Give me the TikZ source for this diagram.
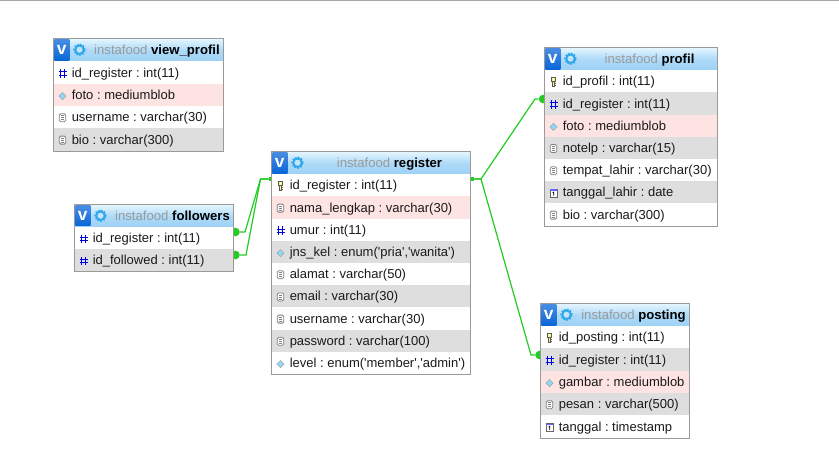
\documentclass[tikz,border=0pt]{standalone}
\usepackage{fontspec}
\newfontfamily\uifont{Liberation Sans}
\definecolor{rowwhite}{HTML}{FFFFFF}
\definecolor{rowgray}{HTML}{DEDEDE}
\definecolor{rowpink}{HTML}{FEE3E3}
\definecolor{frameline}{HTML}{9A9A9A}
\definecolor{headtop}{HTML}{E6F7FF}
\definecolor{headbot}{HTML}{9CD1F5}
\definecolor{linkgreen}{HTML}{22CC22}
\definecolor{titlegray}{HTML}{9A9A9A}
\definecolor{txt}{HTML}{1A1A1A}
\definecolor{vblue}{HTML}{0A66D8}
\definecolor{gearblue}{HTML}{2FA8EC}
\tikzset{
  x=0.75pt,y=-0.75pt,
  rowbox/.style={draw=none,inner sep=0pt,anchor=north west},
  rowtext/.style={inner sep=0pt,anchor=base west,font=\uifont\frenchspacing\fontsize{9.75pt}{11pt}\selectfont,text=txt},
  titletext/.style={inner sep=0pt,anchor=base,font=\uifont\frenchspacing\fontsize{9.85pt}{11pt}\selectfont,text=titlegray},
  framebox/.style={draw=frameline,line width=0.75pt,inner sep=0pt,anchor=north west,fill=none},
  link/.style={draw=linkgreen,line width=0.9pt},
  fkdot/.style={circle,fill=linkgreen,draw=none,inner sep=0pt,minimum size=6.4pt},
  pkdot/.style={rectangle,fill=linkgreen,draw=none,inner sep=0pt,minimum size=3pt},
  vbox/.style={rectangle,inner sep=0pt,anchor=north west,top color=vblue!75!white,bottom color=vblue,draw=none,text=white,font=\uifont\bfseries\fontsize{13pt}{13pt}\selectfont},
  gearfill/.style={draw=gearblue,line width=1.5pt,fill=headbot!60!white},
  gearteeth/.style={draw=gearblue,line width=1pt,dash pattern=on 1.2pt off 1.2pt},
  pics/hashicon/.style={code={
    \draw[blue!90!black,line width=0.7pt] (-1.7,-3.5) -- (-1.7,5) (1.7,-3.5) -- (1.7,5) (-4,-0.8) -- (4,-0.8) (-4,2.4) -- (4,2.4);}},
  pics/diamondicon/.style={code={
    \fill[gray!70] (-4,1) -- (0,-3) -- (4,1) -- (0,5) -- cycle;
    \fill[cyan!45!white] (-3,1) -- (0,-2) -- (3,1) -- (0,4) -- cycle;}},
  pics/docicon/.style={code={
    \draw[gray,line width=0.6pt,fill=white,rounded corners=1pt] (-3.2,-3.5) rectangle (3.2,4.5);
    \draw[gray,line width=0.5pt] (-1.6,-1.5) -- (1.6,-1.5) (-1.6,0.5) -- (1.6,0.5) (-1.6,2.5) -- (1.6,2.5);}},
  pics/keyicon/.style={code={
    \draw[black!65,line width=0.45pt,fill=yellow!55!white] (-2,-4) rectangle (2,0.2);
    \fill[white] (-0.7,-3) rectangle (0.7,-1.6);
    \draw[black!65,line width=0.45pt,fill=yellow!55!white] (-1,0.2) rectangle (1,5);
    \draw[black!65,line width=0.45pt] (1,2) -- (2,2) (1,4) -- (2,4);}},
  pics/calicon/.style={code={
    \draw[gray!80!black,line width=0.6pt,fill=white] (-3.6,-3) rectangle (3.6,4.5);
    \fill[blue!60!white] (-3.6,-3) rectangle (3.6,-1.2);
    \draw[black,line width=0.6pt] (-0.8,0.3) -- (0.3,-0.3) -- (0.3,3.3);}},
}
% name, x, top, width, header height, row height, title, rows
\newcommand{\dbtable}[8]{%
  \pgfmathsetmacro{\tx}{#2-1}
  \pgfmathsetmacro{\ty}{#3-0.8}
  \pgfmathsetmacro{\tw}{#4}
  \pgfmathsetmacro{\hh}{#5}
  \pgfmathsetmacro{\rh}{#6}
  \pgfmathsetlengthmacro{\twlen}{#4*0.75pt}
  \pgfmathsetlengthmacro{\hhlen}{#5*0.75pt}
  \pgfmathsetlengthmacro{\rhlen}{#6*0.75pt}
  \pgfmathsetlengthmacro{\vw}{15*0.75pt}
  \pgfmathsetlengthmacro{\vh}{(#5-2)*0.75pt}
  \node[rowbox,minimum width=\twlen,minimum height=\hhlen,top color=headtop,bottom color=headbot,middle color=headbot!75!headtop] (#1-head) at (\tx,\ty) {};
  \node[vbox,minimum width=\vw,minimum height=\vh] (#1-v) at (\tx+1,\ty+1) {v};
  \draw[gearteeth] (\tx+26.5,\ty+11.5) circle (4.2pt);
  \draw[gearfill] (\tx+26.5,\ty+11.5) circle (3.2pt);
  \pgfmathsetmacro{\tc}{\tx+38+(\tw-38)/2}
  \node[titletext] (#1-title) at (\tc,\ty+16.2) {instafood \textcolor{black}{\bfseries #7}};
  \foreach \ic/\bg/\lab [count=\n] in {#8} {
    \pgfmathsetmacro{\ry}{\ty+\hh+(\n-1)*\rh}
    \node[rowbox,fill=\bg,minimum width=\twlen,minimum height=\rhlen] (#1-\n) at (\tx,\ry) {};
    \pic at (\tx+9.5,\ry+11.5) {\ic};
    \node[rowtext] (#1-t\n) at (\tx+18.5,\ry+16) {\lab};
  }
}
\newcommand{\dbframe}[5]{%
  \pgfmathsetlengthmacro{\fw}{#4*0.75pt}
  \pgfmathsetlengthmacro{\fh}{#5*0.75pt}
  \node[framebox,minimum width=\fw,minimum height=\fh] (#1) at (#2-1,#3-0.8) {};
}
\begin{document}
\begin{tikzpicture}
\useasboundingbox (0,0) rectangle (839,472);
\fill[white] (0,0) rectangle (839,472);
\draw[gray!70,line width=0.75pt] (0,0.5) -- (839,0.5);
% relation end marks
\node[pkdot] (regL) at (271,179) {};
\node[pkdot] (regR) at (472,179) {};
\node[fkdot] (folA) at (235.5,232) {};
\node[fkdot] (folB) at (235.5,255) {};
\node[fkdot] (proD) at (543,99) {};
\node[fkdot] (posD) at (539.5,355) {};
\coordinate (bendL) at (260.5,179);
\coordinate (bendA) at (245,232);
\coordinate (bendB) at (246,255);
\coordinate (bendR) at (481,179);
\coordinate (bendP) at (535,99);
\coordinate (bendQ) at (531,355);
\draw[link] (regL) -- (bendL) -- (bendA) -- (folA);
\draw[link] (regL) -- (bendL) -- (bendB) -- (folB);
\draw[link] (regR) -- (bendR) -- (bendP) -- (proD);
\draw[link] (regR) -- (bendR) -- (bendQ) -- (posD);
% tables
\dbtable{viewprofil}{54}{39}{170}{23}{22.3}{view\_profil}{
  hashicon/rowwhite/{id\_register : int(11)},
  diamondicon/rowpink/{foto : mediumblob},
  docicon/rowwhite/{username : varchar(30)},
  docicon/rowgray/{bio : varchar(300)}}
\dbframe{viewprofilF}{54}{39}{170}{112.5}
\dbtable{followers}{75}{205}{159}{22.5}{22.2}{followers}{
  hashicon/rowwhite/{id\_register : int(11)},
  hashicon/rowgray/{id\_followed : int(11)}}
\dbframe{followersF}{75}{205}{159}{67}
\dbtable{register}{272}{152}{199}{22.7}{22.2}{register}{
  keyicon/rowwhite/{id\_register : int(11)},
  docicon/rowpink/{nama\_lengkap : varchar(30)},
  hashicon/rowwhite/{umur : int(11)},
  diamondicon/rowgray/{jns\_kel : enum('pria','wanita')},
  docicon/rowwhite/{alamat : varchar(50)},
  docicon/rowgray/{email : varchar(30)},
  docicon/rowwhite/{username : varchar(30)},
  docicon/rowgray/{password : varchar(100)},
  diamondicon/rowwhite/{level : enum('member','admin')}}
\dbframe{registerF}{272}{152}{199}{223}
\dbtable{profil}{545}{48}{173}{22.7}{22.2}{profil}{
  keyicon/rowwhite/{id\_profil : int(11)},
  hashicon/rowgray/{id\_register : int(11)},
  diamondicon/rowpink/{foto : mediumblob},
  docicon/rowgray/{notelp : varchar(15)},
  docicon/rowwhite/{tempat\_lahir : varchar(30)},
  calicon/rowgray/{tanggal\_lahir : date},
  docicon/rowwhite/{bio : varchar(300)}}
\dbframe{profilF}{545}{48}{173}{178.5}
\dbtable{posting}{541}{304}{149}{22.7}{22.3}{posting}{
  keyicon/rowwhite/{id\_posting : int(11)},
  hashicon/rowgray/{id\_register : int(11)},
  diamondicon/rowpink/{gambar : mediumblob},
  docicon/rowgray/{pesan : varchar(500)},
  calicon/rowwhite/{tanggal : timestamp}}
\dbframe{postingF}{541}{304}{149}{134.5}
\end{tikzpicture}
\end{document}
